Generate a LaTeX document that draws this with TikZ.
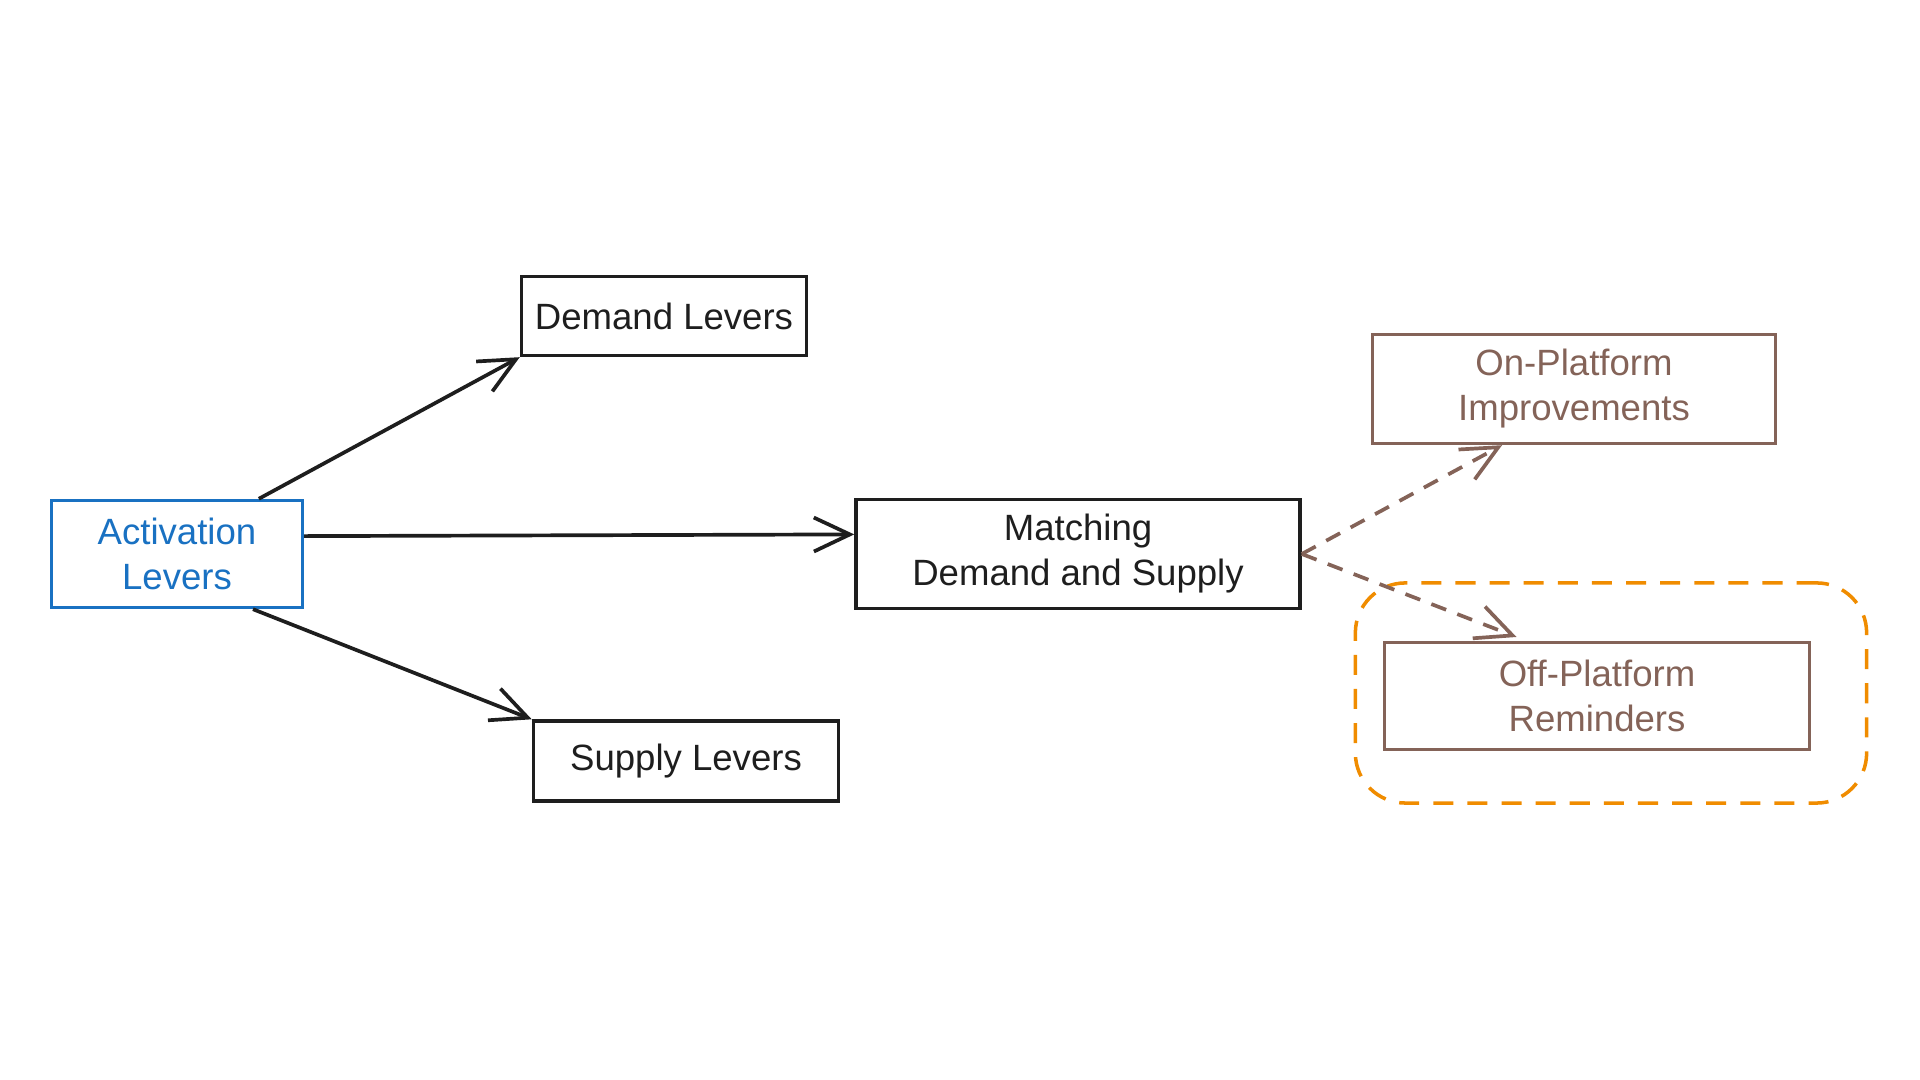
\documentclass[tikz,border=0pt]{standalone}
\usepackage{fontspec}
\setmainfont{Liberation Sans}
\usetikzlibrary{arrows.meta}
\definecolor{inkblack}{HTML}{1E1E1E}
\definecolor{inkblue}{HTML}{1971C2}
\definecolor{inkbrown}{HTML}{846358}
\definecolor{inkorange}{HTML}{F08C00}

\begin{document}
\begin{tikzpicture}
        [x=0.01cm, y=-0.01cm,
         box/.style={draw=inkblack, line width=0.95pt, inner sep=0pt, align=center,
                     font=\fontsize{10.4}{12.8}\selectfont, text=inkblack},
         bluebox/.style={box, draw=inkblue, text=inkblue},
         brownbox/.style={box, draw=inkbrown, text=inkbrown},
         grp/.style={draw=inkorange, line width=1pt, dash pattern=on 5.7pt off 4pt,
                     rounded corners=0.5cm, inner sep=0pt},
         link/.style={draw=inkblack, line width=1.05pt, -{Straight Barb[length=3.6mm, width=3.4mm]}},
         dlink/.style={link, draw=inkbrown, dash pattern=on 4.5pt off 3.4pt}]
        \useasboundingbox (0,0) rectangle (1920,1080);

        \node[grp, minimum width=5.11cm, minimum height=2.2cm] (grp) at (1611,693) {};

        \node[bluebox, minimum width=2.51cm, minimum height=1.07cm] (act) at (177,554) {Activation\\Levers};
        \node[box, minimum width=2.85cm, minimum height=0.79cm] (dem) at (664,316) {Demand Levers};
        \node[box, minimum width=3.05cm, minimum height=0.8cm] (sup) at (686,761) {Supply Levers};
        \node[box, minimum width=4.44cm, minimum height=1.09cm] (mat) at (1078,554) {Matching\\Demand and Supply};
        \node[brownbox, minimum width=4.03cm, minimum height=1.09cm] (on) at (1574,389) {On-Platform\\Improvements};
        \node[brownbox, minimum width=4.25cm, minimum height=1.07cm] (off) at (1597,696) {Off-Platform\\Reminders};

        \draw[link] (act.34) -- (dem.south west);
        \draw[link] (act.8) -- (mat.175);
        \draw[link] (act.-36) -- (sup.north west);
        \draw[dlink] (mat.east) -- (on.218);
        \draw[dlink, shorten >=3pt] (mat.east) -- (off.142);
    \end{tikzpicture}
\end{document}
